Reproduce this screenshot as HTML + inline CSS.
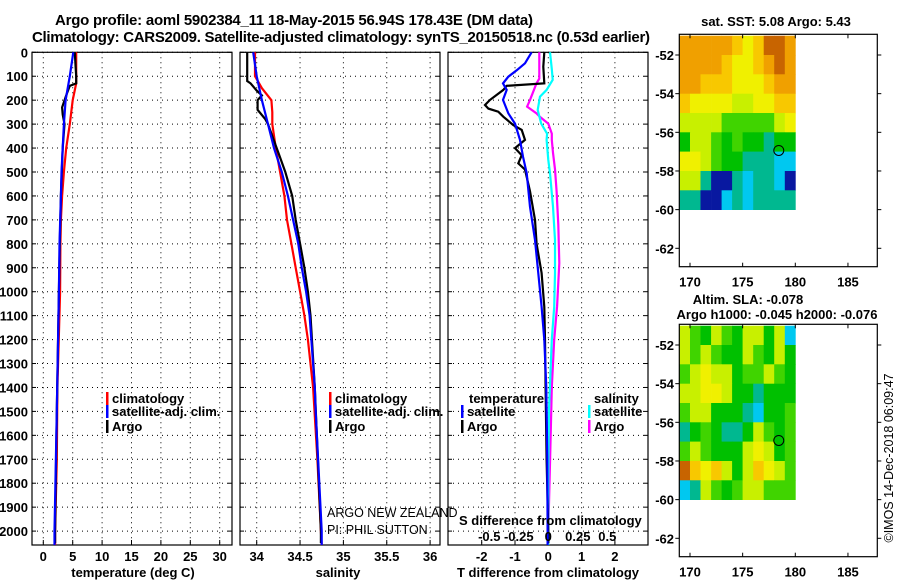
<!DOCTYPE html>
<html><head><meta charset="utf-8"><style>
html,body{margin:0;padding:0;background:#fff;}
svg{display:block;font-family:"Liberation Sans",sans-serif;}
.b{font-weight:bold;font-size:13px;}
</style></head><body>
<svg id="chart" width="900" height="580" viewBox="0 0 900 580">
<text x="294" y="25" class="b" style="font-size:15px" text-anchor="middle" textLength="478">Argo profile: aoml 5902384_11 18-May-2015 56.94S 178.43E (DM data)</text>
<text x="341" y="42" class="b" style="font-size:15px" text-anchor="middle" textLength="618">Climatology: CARS2009. Satellite-adjusted climatology: synTS_20150518.nc (0.53d earlier)</text>
<g id="g"></g>
</svg>
<script>
// ---- data ----
const depthTicks=[0,100,200,300,400,500,600,700,800,900,1000,1100,1200,1300,1400,1500,1600,1700,1800,1900,2000];
const tempTicks=[0,5,10,15,20,25,30];
const salTicks=[34,34.5,35,35.5,36];
const salTickLabels=["34","34.5","35","35.5","36"];
const tdiffTicks=[-2,-1,0,1,2];
const sdiffTicks=[-0.5,-0.25,0,0.25,0.5];
const sdiffTickLabels=["-0.5","-0.25","0","0.25","0.5"];

const tClimDepth=[0,50,130,200,300,400,500,600,700,800,1000,1400,1700,2000,2058];
const tClimVal=[5.6,5.6,5.6,5.0,4.5,3.9,3.5,3.2,3.0,2.9,2.85,2.4,2.3,2.0,2.0];
const tSatDepth=[0,100,200,300,400,500,600,800,1000,1500,2000,2058];
const tSatVal=[5.1,4.5,3.8,3.5,3.3,3.1,3.0,2.75,2.65,2.3,1.9,1.9];
const tArgoDepth=[0,60,100,130,140,180,230,260,300,400,600,800,1000,1500,2000,2050];
const tArgoVal=[5.35,5.5,5.6,5.6,4.5,3.9,3.2,3.3,3.6,3.3,3.0,2.8,2.65,2.3,2.0,2.0];

const sClimDepth=[0,100,150,200,250,300,400,500,600,700,800,900,1000,1100,1200,1400,1700,2000,2058];
const sClimVal=[33.98,33.98,34.06,34.17,34.18,34.18,34.22,34.27,34.32,34.35,34.40,34.45,34.50,34.55,34.59,34.65,34.70,34.74,34.75];
const sSatDepth=[0,100,200,300,400,500,600,700,800,900,1000,1100,1400,1500,2000,2058];
const sSatVal=[33.96,34.0,34.06,34.13,34.2,34.29,34.36,34.42,34.48,34.52,34.57,34.61,34.67,34.68,34.75,34.75];
const sArgoDepth=[0,120,130,160,180,200,240,280,300,350,420,450,500,600,700,800,900,1000,1100,1400,2000,2050];
const sArgoVal=[33.89,33.89,33.93,34.0,34.06,34.01,34.01,34.1,34.13,34.18,34.25,34.28,34.33,34.41,34.45,34.5,34.55,34.59,34.62,34.67,34.74,34.74];

const dtArgoDepth=[0,60,130,140,157,199,220,235,248,269,304,324,366,400,430,464,490,580,700,800,922,1063,1200,1400,1700,2000,2050];
const dtArgoVal=[-0.12,-0.15,-0.12,-1.25,-1.35,-1.75,-1.9,-1.8,-1.5,-1.35,-1.05,-0.8,-0.7,-1.0,-0.8,-0.9,-0.7,-0.55,-0.4,-0.35,-0.2,-0.12,-0.1,-0.08,-0.05,0,0];
const dtSatDepth=[0,46,75,102,130,157,199,255,298,366,436,505,645,784,923,1063,1200,1400,1700,2000,2058];
const dtSatVal=[-0.5,-0.7,-0.95,-1.2,-1.36,-1.25,-1.36,-1.2,-1.0,-0.85,-0.76,-0.65,-0.55,-0.4,-0.3,-0.2,-0.12,-0.06,-0.03,-0.02,-0.02];
const dsArgoDepth=[0,110,130,199,227,255,270,298,340,366,420,489,580,720,880,1060,1200,1400,1700,2000,2050];
const dsArgoVal=[-0.076,-0.076,-0.1,-0.155,-0.18,-0.1,-0.07,0,0.03,0.03,0.04,0.057,0.07,0.085,0.093,0.075,0.05,0.03,0.015,0,0];
const dsSatDepth=[0,70,115,157,185,241,298,340,366,450,505,645,784,923,1063,1200,1500,1800,2058];
const dsSatVal=[0.014,0.03,0.037,-0.014,-0.07,-0.09,-0.06,-0.01,-0.014,0.0,0.014,0.04,0.057,0.057,0.05,0.03,0.005,0.0,0.0];

const lonTicks=[170,175,180,185];
const latTicks=[-52,-54,-56,-58,-60,-62];
const mapLons=[169,170,171,172,173,174,175,176,177,178,179];
const mapLats=[-51,-52,-53,-54,-55,-56,-57,-58,-59];
const sstGrid=[
[8,8,8,8,8,7,6,7,9,9,8],
[8,8,8,8,7,6,6,7,8,9,8],
[8,8,7,7,7,6,6,6,7,8,8],
[7,6,6,6,6,5,5,6,6,7,7],
[5,5,5,5,4,4,4,4,4,5,6],
[3,5,5,4,3,4,3,3,2,3,3],
[6,6,5,4,3,3,2,2,2,1,1],
[5,5,2,0,0,2,1,2,2,1,0],
[2,2,0,0,1,2,1,2,2,2,2]];
const slaGrid=[
[5,4,3,5,4,3,5,5,3,5,1],
[5,4,5,4,3,3,5,4,3,5,3],
[4,5,6,5,5,3,4,4,5,4,3],
[5,5,6,6,5,3,3,2,3,3,3],
[4,5,5,3,3,3,2,1,3,3,4],
[2,3,4,3,2,2,3,5,4,3,4],
[4,5,4,3,3,3,5,6,5,3,4],
[9,7,6,7,5,3,5,7,6,5,4],
[1,2,5,4,3,4,5,5,4,4,4]];
const argoLon=178.43, argoLat=-56.94;

// ---- drawing ----
const NS="http://www.w3.org/2000/svg";
const G=document.getElementById('g');
function mk(tag,attrs,parent){const e=document.createElementNS(NS,tag);for(const k in attrs)e.setAttribute(k,attrs[k]);(parent||G).appendChild(e);return e;}
function txt(x,y,s,attrs,parent){const e=mk('text',Object.assign({x:x,y:y},attrs||{}),parent);e.textContent=s;return e;}

const Y0=52.3, YS=0.2394, YB=545;
const yD=d=>Y0+d*YS;
const cmap=["#0818a0","#00c8f0","#00b890","#00c000","#40d400","#c8f000","#f0f000","#f8c800","#f0a000","#c86400"];

const panels=[
 {name:'temperature',x0:32,x1:232,x:v=>43.3+v*5.88,ticks:tempTicks,labels:tempTicks.map(String),title:'temperature (deg C)',tx:133},
 {name:'salinity',x0:240,x1:440,x:v=>256.7+(v-34)*86.7,ticks:salTicks,labels:salTickLabels,title:'salinity',tx:338},
 {name:'difference',x0:448,x1:648,x:v=>548.3+v*33.3,ticks:tdiffTicks,labels:tdiffTicks.map(String),title:'T difference from climatology',tx:548}
];
const xS=v=>548.3+v*118;

panels.forEach((p,pi)=>{
  const g=mk('g',{});
  
  
  p.ticks.forEach((t,i)=>{
    const x=p.x(t);
    const gl=mk('line',{x1:x,x2:x,y1:Y0,y2:YB,stroke:'#000','stroke-width':1,'stroke-dasharray':'1,4'},g);
    
    
    mk('line',{x1:x,x2:x,y1:YB,y2:YB-5,stroke:'#000'},g);
    const tl=txt(x,561,p.labels[i],{class:'b','text-anchor':'middle'},g);
    
    
  });
  depthTicks.forEach(d=>{
    const y=yD(d);
    const gl=mk('line',{x1:p.x0,x2:p.x1,y1:y,y2:y,stroke:'#000','stroke-width':1,'stroke-dasharray':'1,4'},g);
    
    
    mk('line',{x1:p.x0,x2:p.x0+4,y1:y,y2:y,stroke:'#000'},g);
    mk('line',{x1:p.x1,x2:p.x1-4,y1:y,y2:y,stroke:'#000'},g);
    if(pi===0){
      const tl=txt(28,y+5,String(d),{class:'b','text-anchor':'end'},g);
      
      
    }
  });
  const fr=mk('rect',{x:p.x0,y:Y0,width:p.x1-p.x0,height:YB-Y0,fill:'none',stroke:'#000','stroke-width':1.2},g);
  
  
  const at=txt(p.tx,577,p.title,{class:'b','text-anchor':'middle'},g);
  
  
});

function line(depths,vals,xf,color,name){
  const pts=depths.map((d,i)=>xf(vals[i]).toFixed(1)+','+yD(d).toFixed(1)).join(' ');
  const e=mk('polyline',{points:pts,fill:'none',stroke:color,'stroke-width':2.2,'stroke-linejoin':'miter'});
  
  
}
line(tClimDepth,tClimVal,panels[0].x,'#ff0000','temp-climatology-line');
line(tArgoDepth,tArgoVal,panels[0].x,'#000000','temp-argo-line');
line(tSatDepth,tSatVal,panels[0].x,'#0000ff','temp-satellite-line');
line(sClimDepth,sClimVal,panels[1].x,'#ff0000','sal-climatology-line');
line(sArgoDepth,sArgoVal,panels[1].x,'#000000','sal-argo-line');
line(sSatDepth,sSatVal,panels[1].x,'#0000ff','sal-satellite-line');
line(dsArgoDepth,dsArgoVal,xS,'#ff00ff','sdiff-argo-line');
line(dsSatDepth,dsSatVal,xS,'#00ffff','sdiff-satellite-line');
line(dtArgoDepth,dtArgoVal,panels[2].x,'#000000','tdiff-argo-line');
line(dtSatDepth,dtSatVal,panels[2].x,'#0000ff','tdiff-satellite-line');

// legends
function leg(x,y,color,label,name){
  const g=mk('g',{});
  
  
  if(color) mk('rect',{x:x,y:y-11,width:2.5,height:13,fill:color},g);
  txt(x+6,y,label,{class:'b'},g);
}
leg(106,403,'#ff0000','climatology','legend-climatology');
leg(106,416,'#0000ff','satellite-adj. clim.','legend-satellite');
leg(106,431,'#000000','Argo','legend-argo');
leg(329,403,'#ff0000','climatology','legend-sal-climatology');
leg(329,416,'#0000ff','satellite-adj. clim.','legend-sal-satellite');
leg(329,431,'#000000','Argo','legend-sal-argo');
leg(463,403,null,'temperature','legend-temperature-header');
leg(461,416,'#0000ff','satellite','legend-tdiff-satellite');
leg(461,431,'#000000','Argo','legend-tdiff-argo');
leg(588,403,null,'salinity','legend-salinity-header');
leg(588,416,'#00ffff','satellite','legend-sdiff-satellite');
leg(588,431,'#ff00ff','Argo','legend-sdiff-argo');
{const e=txt(459,525,'S difference from climatology',{class:'b'});

}
sdiffTicks.forEach((s,i)=>{
  const e=txt(xS(s),541,sdiffTickLabels[i],{class:'b','text-anchor':'middle'});
  
  
});
{const e=txt(327,517,'ARGO NEW ZEALAND',{'font-size':12.5});


const f=txt(327,534,'PI: PHIL SUTTON',{'font-size':12.5});

}

// maps
function map(top,grid,name,titles){
  const X0=679.3,X1=877.3,Y1=top+232.4;
  const lx=l=>690+(l-170)*10.53;
  const ly=l=>top+20.7+(-52-l)*19.33;
  const g=mk('g',{});
  
  
  grid.forEach((row,ri)=>row.forEach((v,ci)=>{
    const x=lx(mapLons[ci]),y=ly(mapLats[ri]);
    const c=mk('rect',{x:Math.max(x,X0).toFixed(1),y:Math.max(y,top).toFixed(1),width:(lx(mapLons[ci]+1)-Math.max(x,X0)+0.4).toFixed(1),height:(ly(mapLats[ri]-1)-Math.max(y,top)+0.4).toFixed(1),fill:cmap[v]},g);
    
    
  }));
  mk('rect',{x:X0,y:top,width:X1-X0,height:Y1-top,fill:'none',stroke:'#000','stroke-width':1.2},g);
  lonTicks.forEach(l=>{
    const x=lx(l);
    mk('line',{x1:x,x2:x,y1:top,y2:top+4,stroke:'#000'},g);
    mk('line',{x1:x,x2:x,y1:Y1,y2:Y1-4,stroke:'#000'},g);
    const t=txt(x,Y1+20,String(l),{class:'b','text-anchor':'middle'},g);
    
    
  });
  latTicks.forEach(l=>{
    const y=ly(l);
    mk('line',{x1:X0-4,x2:X0,y1:y,y2:y,stroke:'#000'},g);
    mk('line',{x1:X1,x2:X1+4,y1:y,y2:y,stroke:'#000'},g);
    const t=txt(674,y+5,String(l),{class:'b','text-anchor':'end'},g);
    
    
  });
  const m=mk('circle',{cx:lx(argoLon),cy:ly(argoLat),r:5,fill:'none',stroke:'#000','stroke-width':1},g);
  
  
  titles.forEach(t=>{
    const e=txt(t[0],t[1],t[2],{class:'b','text-anchor':'middle'},g);
    
    
  });
}
map(34.3,sstGrid,'sst-map',[[776,26,'sat. SST: 5.08 Argo: 5.43']]);
map(324.3,slaGrid,'sla-map',[[748,304,'Altim. SLA: -0.078'],[777,319,'Argo h1000: -0.045 h2000: -0.076']]);
{const e=txt(0,0,'©IMOS 14-Dec-2018 06:09:47',{'font-size':12.5,'text-anchor':'middle',transform:'translate(893,458) rotate(-90)'});

}
</script>
</body></html>
